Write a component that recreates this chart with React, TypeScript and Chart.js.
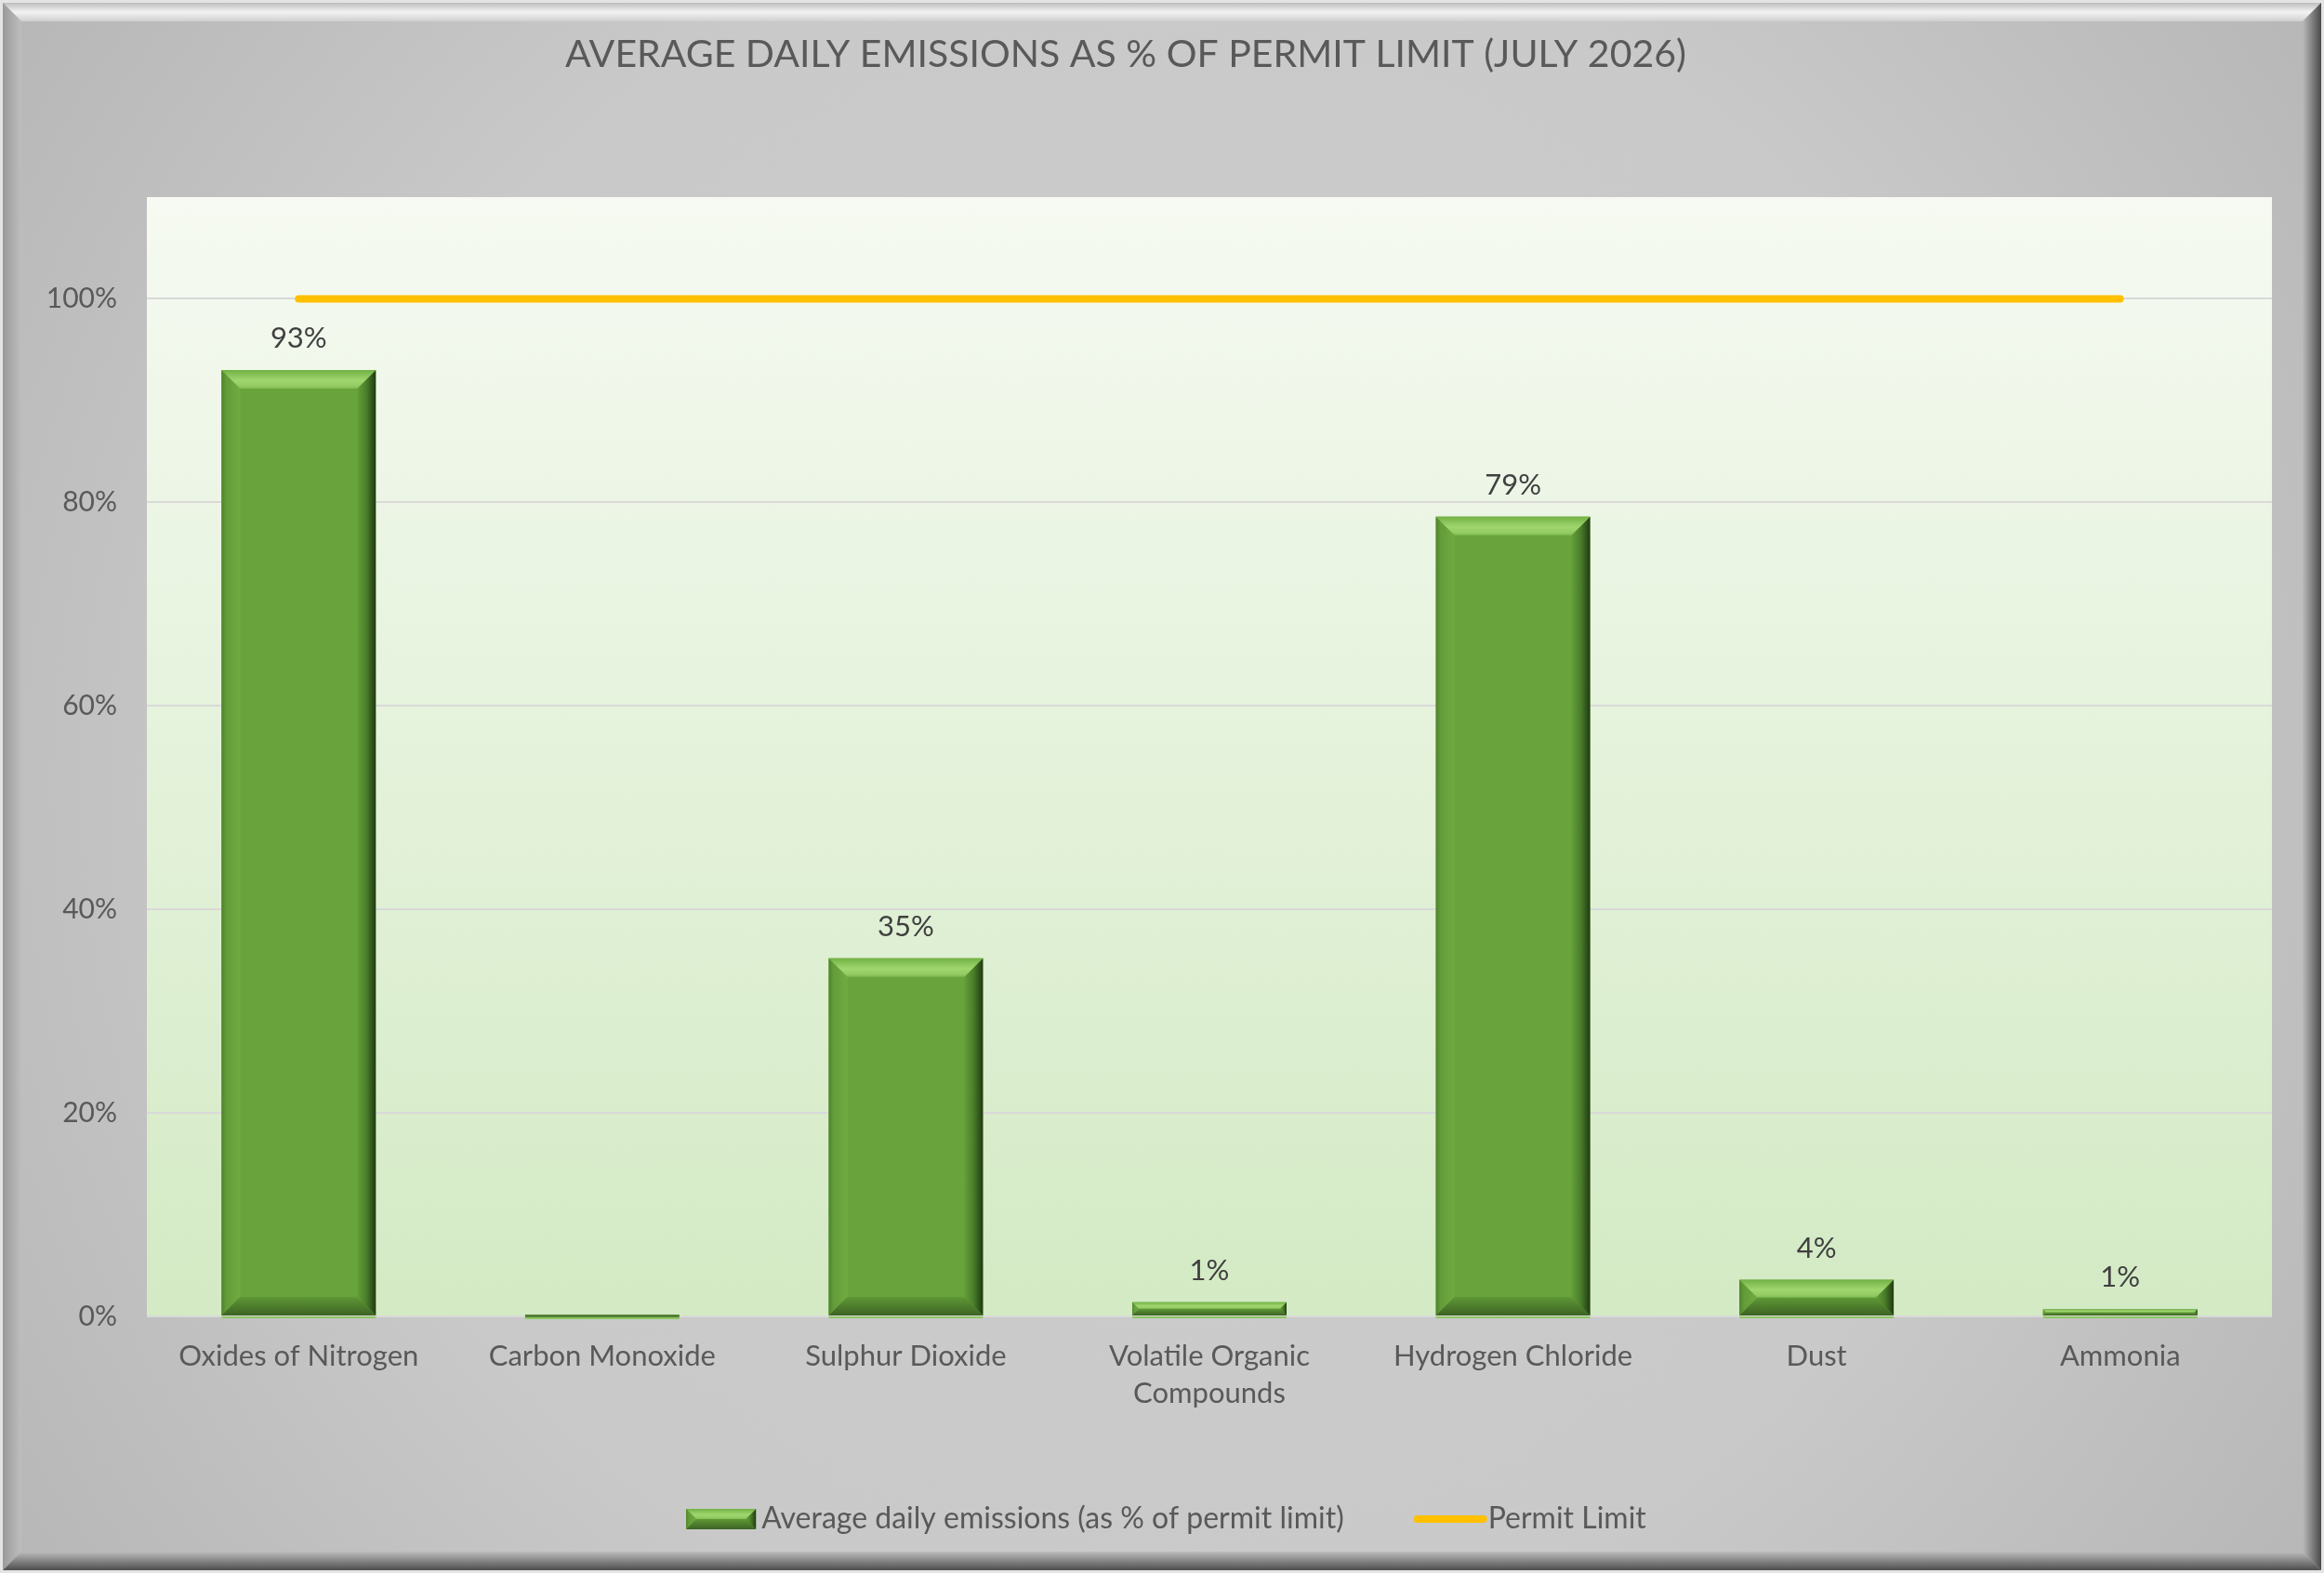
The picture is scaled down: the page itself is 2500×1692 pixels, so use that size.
import React, { useEffect, useRef } from "react";
import { Chart, registerables } from "chart.js";

Chart.register(...registerables);

const chartTitle = "AVERAGE DAILY EMISSIONS AS % OF PERMIT LIMIT (JULY 2026)";
const categories: (string | string[])[] = [
  "Oxides of Nitrogen",
  "Carbon Monoxide",
  "Sulphur Dioxide",
  ["Volatile Organic", "Compounds"],
  "Hydrogen Chloride",
  "Dust",
  "Ammonia",
];
const emissionValues = [93.0, 0, 35.2, 1.4, 78.6, 3.6, 0.7];
const permitLimitValues = [100, 100, 100, 100, 100, 100, 100];
const yTickValues = [0, 20, 40, 60, 80, 100];
const seriesNames = ["Average daily emissions (as % of permit limit)", "Permit Limit"];

const FONT = 'Lato, "Open Sans", "Noto Sans", sans-serif';
const BAR_GREEN = "#69a33c";
const LIMIT_YELLOW = "#ffc000";

function poly(ctx: CanvasRenderingContext2D, pts: number[][], fill: any) {
  ctx.beginPath();
  ctx.moveTo(pts[0][0], pts[0][1]);
  for (let i = 1; i < pts.length; i++) ctx.lineTo(pts[i][0], pts[i][1]);
  ctx.closePath();
  ctx.fillStyle = fill;
  ctx.fill();
}

function drawBevelBox(ctx: CanvasRenderingContext2D, left: number, top: number, right: number, bottom: number, maxBevel: number) {
  const w = right - left;
  const h = bottom - top;
  if (w <= 0 || h <= 0) return;
  const b = Math.min(maxBevel, w / 2, h / 2);
  ctx.save();
  ctx.fillStyle = BAR_GREEN;
  ctx.fillRect(left, top, w, h);
  // left
  let g = ctx.createLinearGradient(left, 0, left + b, 0);
  g.addColorStop(0, "#4f822d");
  g.addColorStop(0.25, "#639c39");
  g.addColorStop(1, "#6fab41");
  poly(ctx, [[left, top], [left + b, top + b], [left + b, bottom - b], [left, bottom]], g);
  // right
  g = ctx.createLinearGradient(right - b, 0, right, 0);
  g.addColorStop(0, "#62a038");
  g.addColorStop(0.5, "#4a7d2a");
  g.addColorStop(1, "#1f3a12");
  poly(ctx, [[right, top], [right, bottom], [right - b, bottom - b], [right - b, top + b]], g);
  // bottom
  g = ctx.createLinearGradient(0, bottom - b, 0, bottom);
  g.addColorStop(0, "#5f9836");
  g.addColorStop(1, "#3d6323");
  poly(ctx, [[left, bottom], [right, bottom], [right - b, bottom - b], [left + b, bottom - b]], g);
  // top
  g = ctx.createLinearGradient(0, top, 0, top + b);
  g.addColorStop(0, "#72b144");
  g.addColorStop(0.55, "#9fd66e");
  g.addColorStop(0.85, "#94cc63");
  g.addColorStop(1, "#7fbb50");
  poly(ctx, [[left, top], [right, top], [right - b, top + b], [left + b, top + b]], g);
  ctx.restore();
}

const backgroundPlugin = {
  id: "excelBackground",
  beforeDraw(chart: any) {
    const { ctx, width: W, height: H, chartArea } = chart;
    ctx.save();
    const rg = ctx.createRadialGradient(W / 2, H / 2, 0, W / 2, H / 2, W * 0.62);
    rg.addColorStop(0, "#cdcdcd");
    rg.addColorStop(0.6, "#c9c9c9");
    rg.addColorStop(1, "#b5b5b5");
    ctx.fillStyle = rg;
    ctx.fillRect(0, 0, W, H);

    const o = 3;
    const b = 20;
    // top
    let g = ctx.createLinearGradient(0, o, 0, o + b);
    g.addColorStop(0, "#bdbdbd");
    g.addColorStop(0.5, "#f3f3f3");
    g.addColorStop(1, "#cfcfcf");
    poly(ctx, [[o, o], [W - o, o], [W - o - b, o + b], [o + b, o + b]], g);
    // left
    g = ctx.createLinearGradient(o, 0, o + b, 0);
    g.addColorStop(0, "#9a9a9a");
    g.addColorStop(1, "#bebebe");
    poly(ctx, [[o, o], [o + b, o + b], [o + b, H - o - b], [o, H - o]], g);
    // right
    g = ctx.createLinearGradient(W - o - b, 0, W - o, 0);
    g.addColorStop(0, "#bababa");
    g.addColorStop(1, "#4a4a4a");
    poly(ctx, [[W - o, o], [W - o, H - o], [W - o - b, H - o - b], [W - o - b, o + b]], g);
    // bottom
    g = ctx.createLinearGradient(0, H - o - b, 0, H - o);
    g.addColorStop(0, "#bcbcbc");
    g.addColorStop(1, "#4e4e4e");
    poly(ctx, [[o, H - o], [W - o, H - o], [W - o - b, H - o - b], [o + b, H - o - b]], g);
    // outer thin line
    ctx.strokeStyle = "#e4e4e4";
    ctx.lineWidth = 3;
    ctx.strokeRect(1.5, 1.5, W - 3, H - 3);

    // plot area
    const pg = ctx.createLinearGradient(0, chartArea.top, 0, chartArea.bottom);
    pg.addColorStop(0, "#f6faf2");
    pg.addColorStop(1, "#d3eac4");
    ctx.fillStyle = pg;
    ctx.fillRect(chartArea.left, chartArea.top, chartArea.right - chartArea.left, chartArea.bottom - chartArea.top);
    ctx.restore();
  },
};

const barDecorPlugin = {
  id: "barDecor",
  afterDatasetsDraw(chart: any) {
    const { ctx } = chart;
    const meta = chart.getDatasetMeta(0);
    ctx.save();
    meta.data.forEach((el: any, i: number) => {
      const left = el.x - el.width / 2;
      const right = el.x + el.width / 2;
      const top = Math.min(el.y, el.base);
      const bottom = Math.max(el.y, el.base);
      if (bottom - top >= 2) {
        drawBevelBox(ctx, left, top, right, bottom, 20);
      } else {
        ctx.fillStyle = "#557f35";
        ctx.fillRect(left, el.base - 2, right - left, 3);
      }
      ctx.fillStyle = "#8cc760";
      ctx.fillRect(left, el.base + 1, right - left, 2);
      const v = emissionValues[i];
      if (v >= 0.5) {
        ctx.fillStyle = "#404040";
        ctx.font = `31px ${FONT}`;
        ctx.textAlign = "center";
        ctx.textBaseline = "middle";
        ctx.fillText(`${Math.round(v)}%`, el.x, top - 34);
      }
    });
    ctx.restore();
  },
};

const LEGEND_BOX = 64;
const boxShiftPlugin = {
  id: "boxShift",
  afterLayout(chart: any) {
    const legend = chart.legend;
    if (legend) {
      legend.left += 33;
      legend.right += 33;
    }
    const title = chart.titleBlock;
    if (title) {
      title.left -= 11;
      title.right -= 11;
    }
  },
};

const legendDecorPlugin = {
  id: "legendDecor",
  afterDraw(chart: any) {
    const legend = chart.legend;
    if (!legend || !legend.legendHitBoxes) return;
    const { ctx } = chart;
    const boxes = legend.legendHitBoxes;
    const sw = 75;
    const bh = 22;
    if (boxes[0]) {
      const hb = boxes[0];
      const cy = hb.top + hb.height / 2;
      drawBevelBox(ctx, hb.left - 1, cy - bh / 2, hb.left - 1 + sw, cy + bh / 2, 11);
    }
    if (boxes[1]) {
      const hb = boxes[1];
      const cy = hb.top + hb.height / 2;
      ctx.save();
      ctx.strokeStyle = LIMIT_YELLOW;
      ctx.lineWidth = 8;
      ctx.lineCap = "round";
      ctx.beginPath();
      ctx.moveTo(hb.left + 4, cy);
      ctx.lineTo(hb.left + sw, cy);
      ctx.stroke();
      ctx.restore();
    }
  },
};

export default function App() {
  const ref = useRef<HTMLCanvasElement>(null);

  useEffect(() => {
    if (!ref.current) return;
    Chart.defaults.font.family = FONT;
    const chart = new Chart(ref.current, {
      type: "bar",
      data: {
        labels: categories as any,
        datasets: [
          {
            type: "bar",
            label: seriesNames[0],
            data: emissionValues,
            backgroundColor: "rgba(0,0,0,0)",
            borderWidth: 0,
            barPercentage: 0.508,
            categoryPercentage: 1,
          },
          {
            type: "line",
            label: seriesNames[1],
            data: permitLimitValues,
            borderColor: LIMIT_YELLOW,
            backgroundColor: LIMIT_YELLOW,
            borderWidth: 8,
            borderCapStyle: "round",
            pointRadius: 0,
            fill: false,
          },
        ],
      } as any,
      options: {
        responsive: false,
        animation: false,
        devicePixelRatio: 1,
        layout: { padding: { left: 0, right: 56, top: 0, bottom: 32 } },
        plugins: {
          title: {
            display: true,
            text: chartTitle,
            color: "#595959",
            font: { family: FONT, size: 41, weight: "normal" },
            padding: { top: 34.4, bottom: 128.4 },
          },
          legend: {
            display: true,
            position: "bottom",
            onClick: () => {},
            labels: {
              color: "#595959",
              font: { family: FONT, size: 32 },
              boxWidth: LEGEND_BOX,
              boxHeight: 22,
              padding: 75,
              generateLabels: () =>
                seriesNames.map((name, i) => ({
                  text: name,
                  fillStyle: "rgba(0,0,0,0)",
                  strokeStyle: "rgba(0,0,0,0)",
                  lineWidth: 0,
                  hidden: false,
                  datasetIndex: i,
                  fontColor: "#595959",
                })),
            },
          },
          tooltip: { enabled: false },
        },
        scales: {
          x: {
            grid: { display: false, drawTicks: false },
            border: { display: false },
            ticks: {
              color: "#595959",
              font: { family: FONT, size: 31, lineHeight: 1.3 },
              padding: 23,
              maxRotation: 0,
              autoSkip: false,
            },
            afterFit: (scale: any) => {
              scale.height = 127;
            },
          },
          y: {
            min: 0,
            max: 110,
            grid: { color: "#d9d9d9", lineWidth: 2, drawTicks: false },
            border: { display: false },
            afterBuildTicks: (scale: any) => {
              scale.ticks = yTickValues.map((v) => ({ value: v }));
            },
            ticks: {
              color: "#595959",
              font: { family: FONT, size: 30 },
              padding: 32,
              callback: (v: any) => `${v}%`,
            },
            afterFit: (scale: any) => {
              scale.width = 158;
            },
          },
        },
      } as any,
      plugins: [backgroundPlugin, boxShiftPlugin, barDecorPlugin, legendDecorPlugin],
    });
    return () => chart.destroy();
  }, []);

  return (
    <div style={{ position: "fixed", left: 0, top: 0, width: 2500, height: 1692 }}>
      <canvas ref={ref} width={2500} height={1692} style={{ display: "block", width: 2500, height: 1692 }} />
    </div>
  );
}
